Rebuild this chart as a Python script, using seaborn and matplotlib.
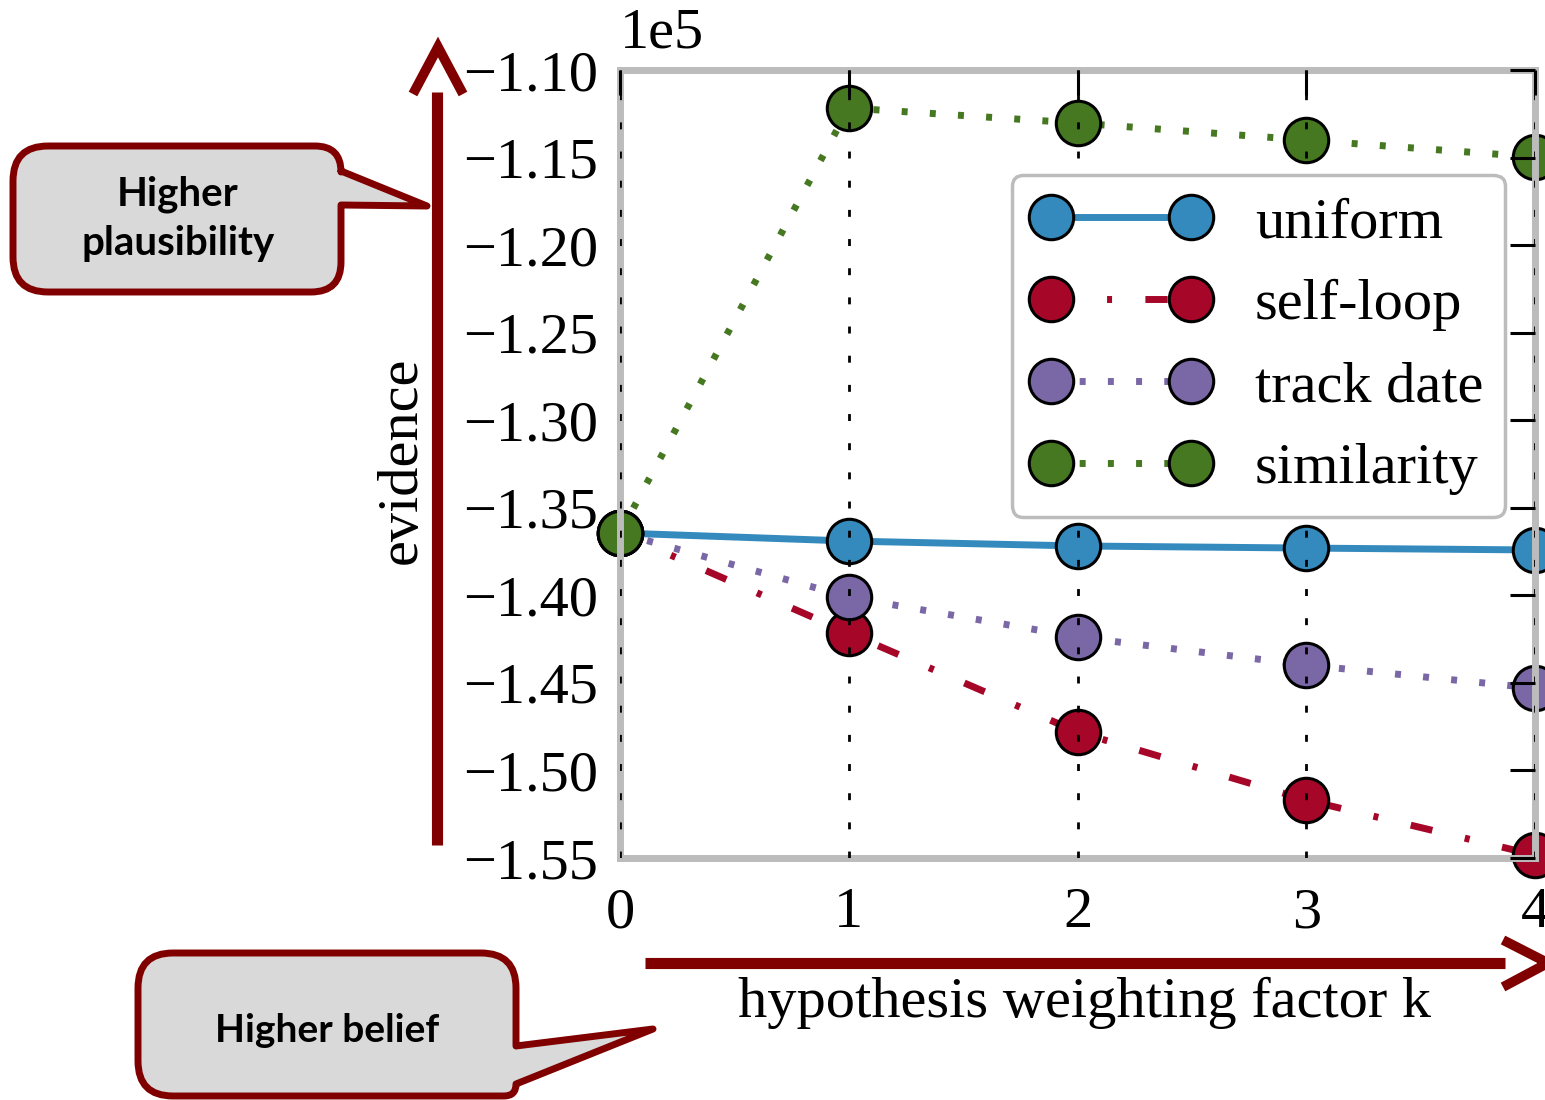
import numpy as np
import pandas as pd
import matplotlib
matplotlib.use("Agg")
import matplotlib.pyplot as plt
import seaborn as sns
from matplotlib.path import Path
from matplotlib.patches import PathPatch
from matplotlib.lines import Line2D
from matplotlib.transforms import Affine2D

# ---------------- data ----------------
k_values = [0, 1, 2, 3, 4]
uniform = [-136440, -136900, -137180, -137300, -137410]
self_loop = [-136440, -142150, -147800, -151690, -154830]
track_date = [-136440, -140100, -142380, -143980, -145300]
similarity = [-136440, -112170, -113030, -114000, -114970]

series_names = ["uniform", "self-loop", "track date", "similarity"]
series_values = [uniform, self_loop, track_date, similarity]
series_colors = ["#348ABD", "#A60628", "#7A68A6", "#467821"]
series_styles = ["-", (0, (16, 24, 3.6, 24)), (0, (4.3, 16)), (0, (4.3, 16))]

y_ticks = [-155000, -150000, -145000, -140000, -135000, -130000,
           -125000, -120000, -115000, -110000]
x_ticks = [0, 1, 2, 3, 4]

# ---------------- style ----------------
sns.set_style("white")
plt.rcParams["font.family"] = ["Liberation Serif", "DejaVu Serif"]
plt.rcParams["lines.scale_dashes"] = False
plt.rcParams["axes.unicode_minus"] = True
plt.rcParams["text.color"] = "black"
plt.rcParams["axes.labelcolor"] = "black"
plt.rcParams["xtick.color"] = "black"
plt.rcParams["ytick.color"] = "black"

W, H = 1545, 1100
fig = plt.figure(figsize=(W / 100, H / 100), dpi=100)
ax = fig.add_axes([620 / W, 1 - 858 / H, (1535 - 620) / W, (858 - 70) / H])

for name, vals, col, ls in zip(series_names, series_values, series_colors, series_styles):
    df = pd.DataFrame({"k": k_values, "evidence": vals})
    sns.lineplot(data=df, x="k", y="evidence", ax=ax, color=col, linestyle=ls,
                 linewidth=5, marker="o", markersize=32, markerfacecolor=col,
                 markeredgecolor="black", markeredgewidth=2.2, clip_on=False,
                 label=name, errorbar=None, legend=False)

ax.set_xlim(0, 4)
ax.set_ylim(-155000, -110000)
ax.set_xticks(x_ticks)
ax.set_yticks(y_ticks)
ax.ticklabel_format(axis="y", style="sci", scilimits=(0, 0))
ax.yaxis.get_offset_text().set_fontsize(42)
ax.yaxis.get_offset_text().set_color("black")
ax.yaxis.OFFSETTEXTPAD = 16

ax.set_axisbelow(False)
ax.xaxis.grid(True, color="black", linestyle=(0, (5, 16)), linewidth=2)
ax.yaxis.grid(False)

ax.tick_params(axis="both", direction="in", length=18, width=2.2, top=True,
               right=True, labelsize=42, color="black", labelcolor="black")
ax.tick_params(axis="y", pad=16)
ax.tick_params(axis="x", pad=21)

for s in ax.spines.values():
    s.set_color("#bcbcbc")
    s.set_linewidth(5)
    s.set_visible(True)

ax.set_xlabel("hypothesis weighting factor k", fontsize=42, color="black")
ax.set_ylabel("evidence", fontsize=42, color="black")
ax.xaxis.set_label_coords(0.508, -0.151)
ax.yaxis.set_label_coords(-0.21, 0.505)

leg = ax.legend(loc="upper right", bbox_to_anchor=(0.967, 0.867), borderaxespad=0,
                numpoints=2, handlelength=3.0, handletextpad=0.8, labelspacing=0.5,
                borderpad=0.37, fontsize=42, frameon=True, fancybox=True,
                edgecolor="#bcbcbc", facecolor="white", framealpha=1)
leg.get_frame().set_linewidth(2.5)
for t in leg.get_texts():
    t.set_color("black")

# ---------------- annotations in pixel coordinates ----------------
px = Affine2D().scale(1 / W, -1 / H).translate(0, 1) + fig.transFigure
RED = "#800000"


def add_line(pts, lw, **kw):
    xs, ys = zip(*pts)
    ln = Line2D(xs, ys, transform=px, color=RED, linewidth=lw, **kw)
    fig.add_artist(ln)


# vertical arrow
add_line([(437, 845), (437, 92)], 8, solid_capstyle="butt")
add_line([(413, 94), (438, 47), (463, 94)], 7, solid_joinstyle="miter", solid_capstyle="butt")
# horizontal arrow
add_line([(645, 963), (1505, 963)], 8, solid_capstyle="butt")
add_line([(1503, 940), (1548, 963), (1503, 987)], 7, solid_joinstyle="miter", solid_capstyle="butt")


def callout(x0, y0, x1, y1, radii, tail):
    rtl, rtr, rbr, rbl = radii
    (ta, apex, tb) = tail
    verts = [(x0 + rtl, y0), (x1 - rtr, y0), (x1, y0), (x1, y0 + rtr),
             ta, apex, tb,
             (x1, y1 - rbr), (x1, y1), (x1 - rbr, y1),
             (x0 + rbl, y1), (x0, y1), (x0, y1 - rbl),
             (x0, y0 + rtl), (x0, y0), (x0 + rtl, y0), (x0 + rtl, y0)]
    codes = [Path.MOVETO, Path.LINETO, Path.CURVE3, Path.CURVE3,
             Path.LINETO, Path.LINETO, Path.LINETO,
             Path.LINETO, Path.CURVE3, Path.CURVE3,
             Path.LINETO, Path.CURVE3, Path.CURVE3,
             Path.LINETO, Path.CURVE3, Path.CURVE3, Path.CLOSEPOLY]
    p = PathPatch(Path(verts, codes), transform=px, facecolor="#d9d9d9",
                  edgecolor=RED, linewidth=5, joinstyle="round")
    fig.add_artist(p)


callout(13, 146, 341, 292, (35, 26, 30, 35),
        ((341, 171), (427, 206), (341, 205)))
callout(138, 953, 516, 1096, (35, 35, 12, 35),
        ((516, 1046), (653, 1029), (516, 1084)))

fig.text(178 / W, 1 - 219 / H, "Higher\nplausibility", ha="center", va="center",
         fontsize=29, fontweight="bold", family=["Lato", "DejaVu Sans"],
         linespacing=1.4, color="black")
fig.text(327 / W, 1 - 1030 / H, "Higher belief", ha="center", va="center",
         fontsize=28, fontweight="bold", family=["Lato", "DejaVu Sans"], color="black")

fig.savefig("out.png", dpi=100)
